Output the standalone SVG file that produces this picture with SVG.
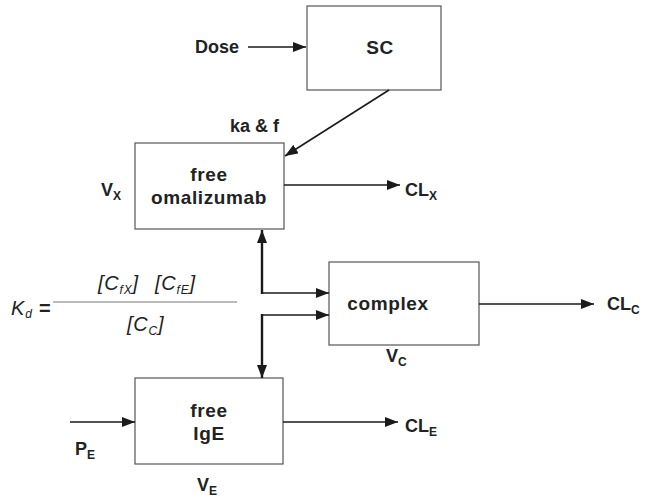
<svg xmlns="http://www.w3.org/2000/svg" width="646" height="499" viewBox="0 0 646 499">
<defs>
<marker id="ah" markerWidth="13" markerHeight="10" refX="13" refY="5" orient="auto" markerUnits="userSpaceOnUse">
<path d="M0,0 L13,5 L0,10 Z" fill="#1a1a1a"/>
</marker>
</defs>
<style>
.box{fill:#fff;stroke:#555;stroke-width:1.2}
.t{font-family:"Liberation Sans",Arial,sans-serif;font-weight:bold;font-size:18px;fill:#222}
.b{font-size:19px;letter-spacing:0.6px}
.s{font-size:12px}
.c{text-anchor:middle}
.ln{stroke:#1a1a1a;stroke-width:1.6;fill:none}
.th{stroke-width:2.4}
.it{font-family:"Liberation Sans",Arial,sans-serif;font-style:italic;font-size:20px;fill:#222;letter-spacing:0.8px}
</style>
<rect width="646" height="499" fill="#fff"/>
<g id="sc">
<rect class="box" x="307" y="6" width="134" height="84"/>
<text class="t b c" x="380" y="54">SC</text>
</g>
<g id="omalizumab">
<rect class="box" x="135" y="143" width="149" height="86"/>
<text class="t b c" x="209" y="181">free</text>
<text class="t b c" x="209" y="204">omalizumab</text>
</g>
<g id="complex">
<rect class="box" x="329" y="262" width="150" height="83"/>
<text class="t b c" x="388" y="310">complex</text>
</g>
<g id="ige">
<rect class="box" x="135" y="378" width="148" height="86"/>
<text class="t b c" x="209" y="417">free</text>
<text class="t b c" x="209" y="440">IgE</text>
</g>
<g id="labels">
<text class="t" x="195" y="53">Dose</text>
<text class="t" x="230" y="132">ka &amp; f</text>
<text class="t" x="101" y="196">V<tspan class="s" dy="4">X</tspan></text>
<text class="t" x="405" y="196">CL<tspan class="s" dy="4">X</tspan></text>
<text class="t" x="607" y="310">CL<tspan class="s" dy="4">C</tspan></text>
<text class="t" x="386" y="362">V<tspan class="s" dy="4">C</tspan></text>
<text class="t" x="405" y="432">CL<tspan class="s" dy="4">E</tspan></text>
<text class="t" x="75" y="455">P<tspan class="s" dy="4">E</tspan></text>
<text class="t" x="197" y="491">V<tspan class="s" dy="4">E</tspan></text>
</g>
<g id="formula">
<text class="it" x="11" y="315">K<tspan class="s" dy="3">d</tspan><tspan dy="-3" font-style="normal" font-weight="bold"> =</tspan></text>
<line x1="53" y1="302" x2="237" y2="302" stroke="#777" stroke-width="1.2"/>
<text class="it" x="98" y="290">[C<tspan class="s" dy="4">fX</tspan><tspan dy="-4">]</tspan></text>
<text class="it" x="155" y="290">[C<tspan class="s" dy="4">fE</tspan><tspan dy="-4">]</tspan></text>
<text class="it" x="127" y="331">[C<tspan class="s" dy="4">C</tspan><tspan dy="-4">]</tspan></text>
</g>
<g id="connectors">
<line class="ln" x1="248" y1="47" x2="306" y2="47" marker-end="url(#ah)"/>
<line class="ln" x1="389" y1="90" x2="285" y2="156" marker-end="url(#ah)"/>
<line class="ln" x1="284" y1="185" x2="400" y2="185" marker-end="url(#ah)"/>
<polyline class="ln th" points="262,294 262,230" marker-end="url(#ah)"/>
<polyline class="ln" points="262,293 329,293" marker-end="url(#ah)"/>
<polyline class="ln" points="262,315 329,315" marker-end="url(#ah)"/>
<polyline class="ln th" points="262,314 262,378" marker-end="url(#ah)"/>
<line class="ln" x1="479" y1="304" x2="594" y2="304" marker-end="url(#ah)"/>
<line class="ln" x1="70" y1="422" x2="135" y2="422" marker-end="url(#ah)"/>
<line class="ln" x1="283" y1="422" x2="398" y2="422" marker-end="url(#ah)"/>
</g>
</svg>
